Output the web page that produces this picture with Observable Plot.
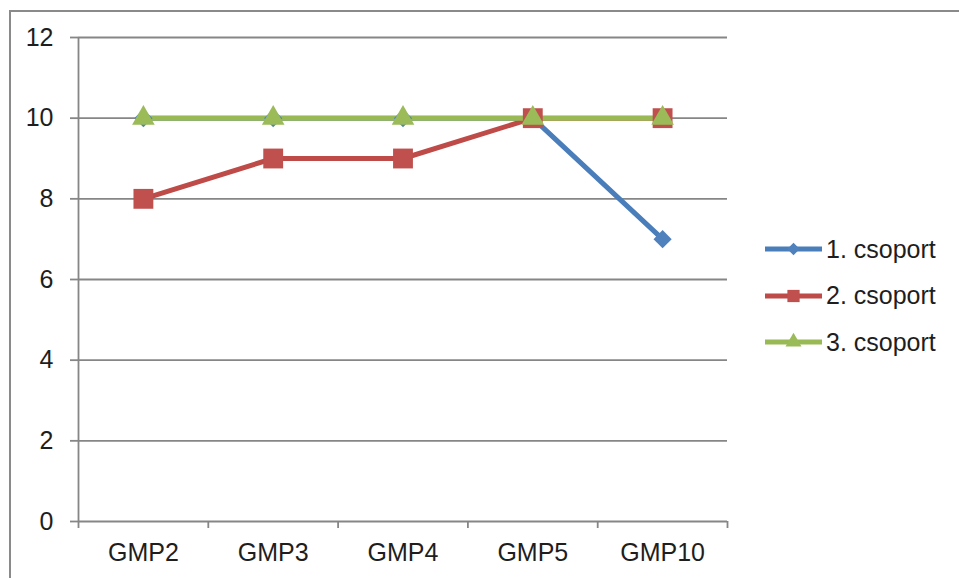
<!DOCTYPE html>
<html>
<head>
<meta charset="utf-8">
<script src="https://cdn.jsdelivr.net/npm/d3@7"></script>
<script src="https://cdn.jsdelivr.net/npm/@observablehq/plot@0.6"></script>
<style>
  body { margin: 0; background: #fff; }
  #chart { position: relative; width: 959px; height: 578px; font-family: "Liberation Sans", Arial, sans-serif; }
  #chart > svg { position: absolute; left: 0; top: 0; }
  #frame { position: absolute; left: 9px; top: 10px; right: 0; bottom: 0;
           border-top: 2px solid #8a8a8a; border-left: 2px solid #8a8a8a; pointer-events: none; }
  #legend { position: absolute; left: 765px; top: 226px; }
  .item { display: flex; align-items: center; height: 46.5px; font-size: 25px; color: #1e1e1e; }
  .item svg { margin-right: 4px; }
</style>
</head>
<body>
<div id="chart"><div id="frame"></div><div id="legend"></div></div>
<script>
// Categories along the x axis
const categories = ["GMP2", "GMP3", "GMP4", "GMP5", "GMP10"];
// Series names
const seriesNames = ["1. csoport", "2. csoport", "3. csoport"];
// Values per series
const group1 = [10, 10, 10, 10, 7];
const group2 = [8, 9, 9, 10, 10];
const group3 = [10, 10, 10, 10, 10];
// Y axis ticks
const yTicks = [0, 2, 4, 6, 8, 10, 12];

const seriesValues = [group1, group2, group3];
const lineColors = ["#4a7ebb", "#be4b48", "#98b954"];
const markerColors = ["#4f81bd", "#c0504d", "#9bbb59"];
const symbols = ["diamond2", "square", "triangle"];
const markerR = [8.2, 11.2, 8.4];

const rows = seriesNames.flatMap((name, s) =>
  seriesValues[s].map((v, i) => ({series: name, s, i, cat: categories[i], value: v}))
);

const gridColor = "#868686";
const idx = d3.range(categories.length);
const bounds = d3.range(categories.length + 1).map(k => k - 0.5);

// All lines first, then all markers (so markers sit on top of every line)
const lines = seriesNames.map((name, s) =>
  Plot.line(rows.filter(d => d.s === s), {x: "i", y: "value", stroke: lineColors[s], strokeWidth: 5})
);
const dots = seriesNames.map((name, s) =>
  Plot.dot(rows.filter(d => d.s === s), {x: "i", y: "value", symbol: () => symbols[s], r: markerR[s],
    fill: markerColors[s], stroke: "none"})
);

const plot = Plot.plot({
  width: 959,
  height: 578,
  marginLeft: 78,
  marginRight: 232,
  marginTop: 37,
  marginBottom: 57,
  style: {background: "transparent", fontFamily: "Liberation Sans, Arial, sans-serif", color: "#1e1e1e"},
  x: {type: "linear", domain: [-0.5, categories.length - 0.5], axis: null},
  y: {domain: [0, 12], axis: null},
  symbol: {type: "identity"},
  marks: [
    Plot.gridY(yTicks, {stroke: gridColor, strokeOpacity: 1, strokeWidth: 1.8}),
    Plot.axisY(yTicks, {label: null, tickSize: 8, tickPadding: 17, fontSize: 25, stroke: gridColor, strokeWidth: 1.8, fill: "#1e1e1e"}),
    Plot.ruleX([-0.5], {y1: 0, y2: 12, stroke: gridColor, strokeWidth: 1.8}),
    Plot.axisX(bounds, {label: null, tickSize: 7, tickFormat: () => "", stroke: gridColor, strokeWidth: 1.8}),
    Plot.axisX(idx, {label: null, tickSize: 0, tickPadding: 22, tickFormat: i => categories[i], fontSize: 25, fill: "#1e1e1e"}),
    ...lines,
    ...dots
  ]
});

const chart = document.getElementById("chart");
chart.insertBefore(plot, chart.firstChild);

// Legend: line swatch with marker, then series name
const legend = d3.select("#legend");
seriesNames.forEach((name, s) => {
  const item = legend.append("div").attr("class", "item");
  const sw = item.append("svg").attr("width", 57).attr("height", 20);
  sw.append("line").attr("x1", 0).attr("x2", 57).attr("y1", 10).attr("y2", 10)
    .attr("stroke", lineColors[s]).attr("stroke-width", 5);
  const sym = {diamond2: d3.symbolDiamond2, square: d3.symbolSquare, triangle: d3.symbolTriangle}[symbols[s]];
  sw.append("path").attr("transform", "translate(28.5,10)")
    .attr("d", d3.symbol(sym, [100, 150, 110][s])())
    .attr("fill", markerColors[s]);
  item.append("span").text(name);
});
</script>
</body>
</html>
